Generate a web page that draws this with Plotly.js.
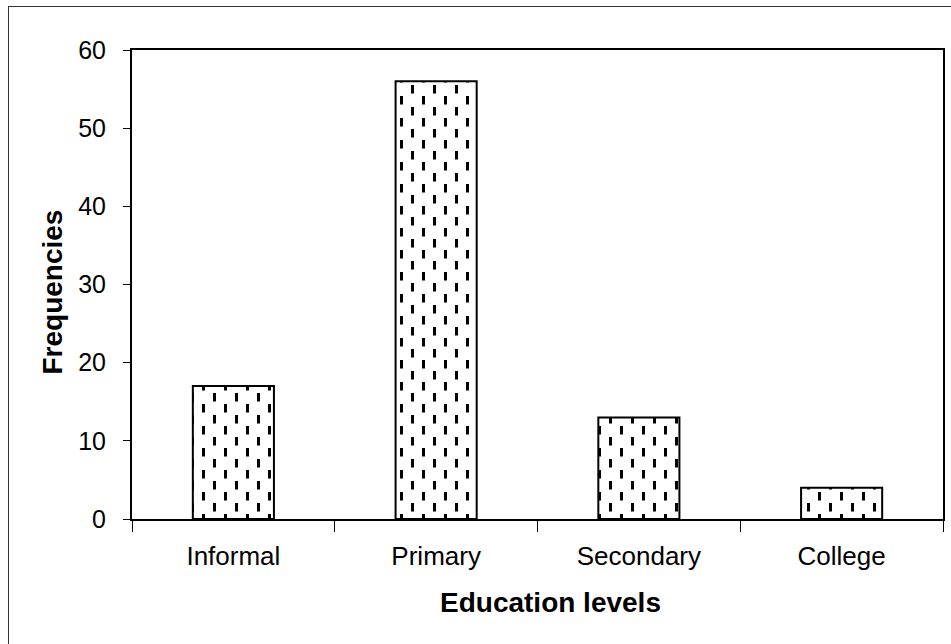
<!DOCTYPE html>
<html>
<head>
<meta charset="utf-8">
<script src="https://cdn.plot.ly/plotly-3.0.1.min.js"></script>
<style>
  html, body { margin: 0; padding: 0; background: #fff; overflow: hidden; }
  #wrap { position: relative; width: 951px; height: 644px; }
  #frame { position: absolute; left: 8px; top: 6px; width: 1000px; height: 700px;
           border-left: 1.5px solid #333; border-top: 1.5px solid #333; pointer-events: none; }
  #chart { position: absolute; left: 0; top: 0; width: 951px; height: 644px; }
</style>
</head>
<body>
<div id="wrap">
  <div id="chart"></div>
  <div id="frame"></div>
</div>
<script>
const categories = ["Informal", "Primary", "Secondary", "College"];
const frequencies = [17, 56, 13, 4];
const yTickValues = [0, 10, 20, 30, 40, 50, 60];
const xTitle = "Education levels";
const yTitle = "Frequencies";

const FONT = "Liberation Sans, Arial, sans-serif";

const trace = {
  type: "bar",
  x: categories,
  y: frequencies,
  marker: {
    color: "#ffffff",
    line: { color: "#000000", width: 2 },
    pattern: { shape: "|", fgcolor: "#000000", bgcolor: "#ffffff", size: 11, solidity: 0.2 }
  },
  hoverinfo: "none"
};

const layout = {
  width: 951,
  height: 644,
  paper_bgcolor: "rgba(0,0,0,0)",
  plot_bgcolor: "#ffffff",
  margin: { l: 132, r: 8, t: 50, b: 125, pad: 0 },
  bargap: 0.6,
  showlegend: false,
  font: { family: FONT, color: "#000000", size: 25 },
  xaxis: {
    type: "category",
    showgrid: false,
    zeroline: false,
    showline: true,
    linecolor: "#000000",
    linewidth: 2,
    mirror: true,
    ticks: "outside",
    tickson: "boundaries",
    ticklen: 11,
    tickwidth: 1,
    tickcolor: "#000000",
    ticklabelstandoff: 13,
    tickfont: { family: FONT, size: 26, color: "#000000" }
  },
  yaxis: {
    range: [0, 60],
    tickvals: yTickValues,
    showgrid: false,
    zeroline: false,
    showline: true,
    linecolor: "#000000",
    linewidth: 2,
    mirror: true,
    ticks: "outside",
    ticklen: 7,
    tickwidth: 1,
    tickcolor: "#000000",
    ticklabelstandoff: 12,
    tickfont: { family: FONT, size: 25, color: "#000000" }
  },
  annotations: [
    {
      text: "<b>" + xTitle + "</b>",
      xref: "paper", yref: "paper",
      x: 0.5166, y: -0.179,
      xanchor: "center", yanchor: "middle",
      showarrow: false,
      font: { family: FONT, size: 28, color: "#000000" }
    },
    {
      text: "<b>" + yTitle + "</b>",
      xref: "paper", yref: "paper",
      x: -0.0986, y: 0.483,
      xanchor: "center", yanchor: "middle",
      textangle: -90,
      showarrow: false,
      font: { family: FONT, size: 28, color: "#000000" }
    }
  ]
};

Plotly.newPlot("chart", [trace], layout, { staticPlot: true, displayModeBar: false }).then(function () {
  // Restyle the fill pattern into staggered vertical dashes
  const NS = "http://www.w3.org/2000/svg";
  document.querySelectorAll("pattern").forEach(function (p) {
    while (p.firstChild) p.removeChild(p.firstChild);
    p.setAttribute("width", "22");
    p.setAttribute("height", "22");
    p.setAttribute("viewBox", "0 0 22 22");
    p.removeAttribute("patternTransform");
    const bg = document.createElementNS(NS, "rect");
    bg.setAttribute("x", "0"); bg.setAttribute("y", "0");
    bg.setAttribute("width", "22"); bg.setAttribute("height", "22");
    bg.setAttribute("fill", "#ffffff");
    p.appendChild(bg);
    [[4, 2], [15, 13], [15, -9]].forEach(function (d) {
      const r = document.createElementNS(NS, "rect");
      r.setAttribute("x", String(d[0]));
      r.setAttribute("y", String(d[1]));
      r.setAttribute("width", "3");
      r.setAttribute("height", "8.5");
      r.setAttribute("fill", "#000000");
      p.appendChild(r);
    });
  });
});
</script>
</body>
</html>
